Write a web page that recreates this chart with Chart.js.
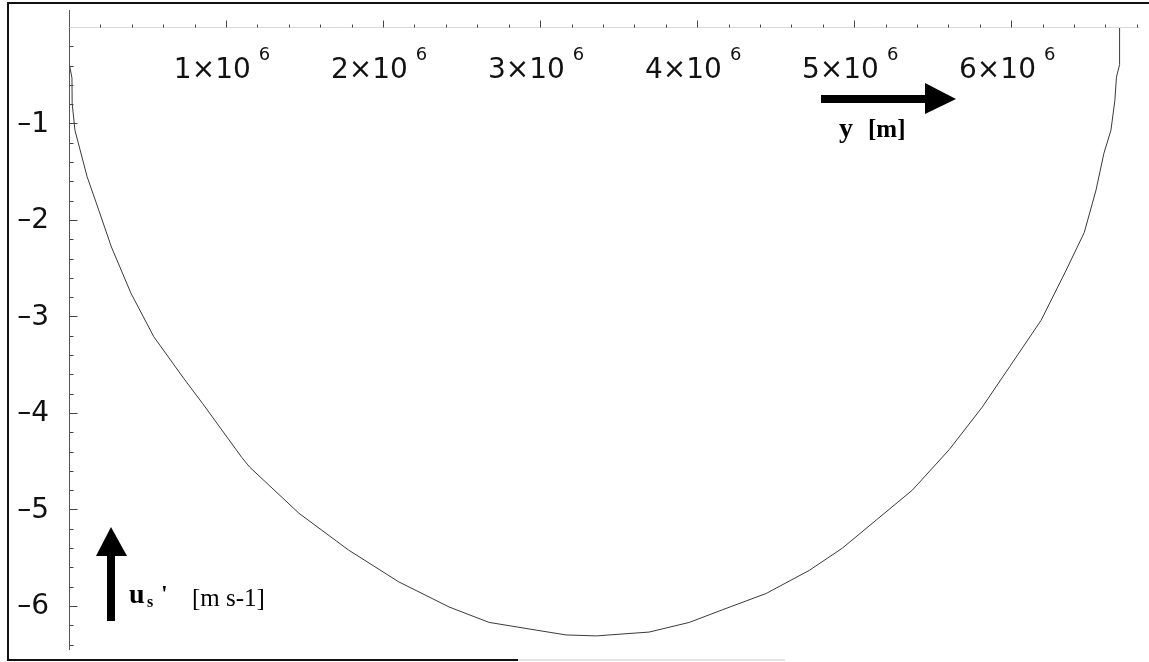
<!DOCTYPE html>
<html>
<head>
<meta charset="utf-8">
<script src="https://cdn.jsdelivr.net/npm/chart.js@4.4.0/dist/chart.umd.min.js"></script>
<style>
  html, body { margin: 0; padding: 0; background: #fff; }
  #wrap { width: 1149px; height: 662px; position: relative; }
</style>
</head>
<body>
<div id="wrap"><canvas id="chart-us"></canvas></div>
<script>
// distance y [m] along the section
var yDist = [0, 0.019e6, 0.02e6, 0.038e6, 0.115e6, 0.19e6, 0.27e6, 0.395e6, 0.54e6, 0.73e6,
  0.85e6, 1.10e6, 1.15e6, 1.465e6, 1.78e6, 2.10e6, 2.42e6, 2.675e6, 2.975e6, 3.165e6,
  3.36e6, 3.44e6, 3.695e6, 3.95e6, 4.16e6, 4.44e6, 4.715e6, 4.925e6, 5.14e6, 5.37e6,
  5.605e6, 5.815e6, 5.99e6, 6.19e6, 6.35e6, 6.465e6, 6.54e6, 6.59e6, 6.635e6, 6.66e6,
  6.67e6, 6.69e6, 6.69e6];

// u_s' [m s-1]
var usVals = [-0.37, -0.53, -0.79, -1.07, -1.55, -1.90, -2.28, -2.76, -3.21, -3.64,
  -3.90, -4.46, -4.56, -5.04, -5.42, -5.75, -6.01, -6.17, -6.25, -6.30,
  -6.31, -6.30, -6.27, -6.17, -6.04, -5.87, -5.63, -5.40, -5.11, -4.80,
  -4.38, -3.94, -3.52, -3.04, -2.52, -2.13, -1.69, -1.31, -1.07, -0.76,
  -0.52, -0.39, 0];

var xTickVals = [1, 2, 3, 4, 5, 6];      // x 10^6 m
var yTickVals = [-1, -2, -3, -4, -5, -6];

var points = yDist.map(function (d, i) { return { x: d, y: usVals[i] }; });

var mmaAxes = {
  id: "mmaAxes",
  beforeDraw: function (chart) {
    var c = chart.ctx;
    c.save();
    c.fillStyle = "#fff";
    c.fillRect(0, 0, chart.width, chart.height);
    // frame of the scanned figure
    c.strokeStyle = "#111";
    c.lineWidth = 2;
    c.beginPath();
    c.moveTo(1149, 3);
    c.lineTo(8, 3);
    c.lineTo(8, 660);
    c.lineTo(518, 660);
    c.stroke();
    c.strokeStyle = "#e4e4e4";
    c.beginPath();
    c.moveTo(518, 660);
    c.lineTo(785, 660);
    c.stroke();
    c.restore();
  },
  afterDraw: function (chart) {
    var c = chart.ctx;
    var xs = chart.scales.x, ys = chart.scales.y;
    var x0 = Math.round(xs.getPixelForValue(0)) + 0.5;
    var y0 = Math.round(ys.getPixelForValue(0)) + 0.5;
    c.save();

    // axes lines
    c.lineWidth = 1;
    c.strokeStyle = "#555";
    c.beginPath();
    c.moveTo(x0, ys.top);
    c.lineTo(x0, ys.bottom);
    c.stroke();
    c.strokeStyle = "#d8d8d8";
    c.beginPath();
    c.moveTo(x0, y0);
    c.lineTo(xs.right, y0);
    c.stroke();

    // x ticks (point up)
    c.strokeStyle = "#444";
    for (var i = 1; i <= 34; i++) {
      var px = Math.round(xs.getPixelForValue(i * 0.2e6)) + 0.5;
      var len = (i % 5 === 0) ? 7 : 3;
      c.beginPath();
      c.moveTo(px, y0);
      c.lineTo(px, y0 - len);
      c.stroke();
    }
    // y ticks (point right)
    for (var j = 1; j <= 32; j++) {
      var py = Math.round(ys.getPixelForValue(-j * 0.2)) + 0.5;
      var l2 = (j % 5 === 0) ? 8 : 4;
      c.beginPath();
      c.moveTo(x0, py);
      c.lineTo(x0 + l2, py);
      c.stroke();
    }

    // x tick labels  k x 10^6
    c.fillStyle = "#111";
    c.textBaseline = "alphabetic";
    xTickVals.forEach(function (k) {
      var base = k + "\u00d710";
      c.font = "28px 'DejaVu Sans'";
      var w1 = c.measureText(base).width;
      c.font = "18px 'DejaVu Sans'";
      var w2 = c.measureText("6").width;
      var gap = 8;
      var cx = xs.getPixelForValue(k * 1e6) - 4;
      var left = cx - (w1 + gap + w2) / 2;
      c.font = "28px 'DejaVu Sans'";
      c.textAlign = "left";
      c.fillText(base, left, 78);
      c.font = "18px 'DejaVu Sans'";
      c.fillText("6", left + w1 + gap, 60);
    });

    // y tick labels
    c.font = "28px 'DejaVu Sans'";
    c.textAlign = "right";
    c.textBaseline = "middle";
    yTickVals.forEach(function (v) {
      c.fillText("\u2013" + Math.abs(v), 49, ys.getPixelForValue(v) + 1);
    });

    // axis arrows
    c.fillStyle = "#000";
    c.fillRect(821, 95, 104, 8);
    c.beginPath();
    c.moveTo(925, 83);
    c.lineTo(956, 99);
    c.lineTo(925, 114);
    c.closePath();
    c.fill();

    c.fillRect(107, 555, 8, 66);
    c.beginPath();
    c.moveTo(96, 556);
    c.lineTo(111, 527);
    c.lineTo(127, 556);
    c.closePath();
    c.fill();

    // axis captions
    c.textAlign = "left";
    c.textBaseline = "alphabetic";
    c.font = "bold 28px 'Liberation Serif'";
    c.fillText("y", 839, 137);
    c.font = "bold 25px 'Liberation Serif'";
    c.fillText("[m]", 868, 137);

    c.font = "bold 28px 'Liberation Serif'";
    c.fillText("u", 129, 603);
    c.font = "bold 16px 'Liberation Serif'";
    c.fillText("s", 147, 607);
    c.font = "bold 24px 'Liberation Serif'";
    c.fillText("'", 161, 601);
    c.font = "25px 'Liberation Serif'";
    c.fillText("[m s-1]", 192, 606);

    c.restore();
  }
};

new Chart(document.getElementById("chart-us"), {
  type: "line",
  data: {
    datasets: [
      {
        label: "us'",
        data: points,
        borderColor: "#3a3a3a",
        borderWidth: 1,
        pointRadius: 0,
        tension: 0,
        fill: false,
      },
    ],
  },
  options: {
    responsive: true,
    maintainAspectRatio: false,
    animation: false,
    layout: {
      padding: { left: 69, right: 9, top: 10, bottom: 12 },
    },
    plugins: {
      legend: { display: false },
      tooltip: { enabled: false },
    },
    scales: {
      x: {
        type: "linear",
        display: false,
        min: 0,
        max: 6.82e6,
      },
      y: {
        type: "linear",
        display: false,
        min: -6.456,
        max: 0.176,
      },
    },
  },
  plugins: [mmaAxes],
});
</script>
</body>
</html>
